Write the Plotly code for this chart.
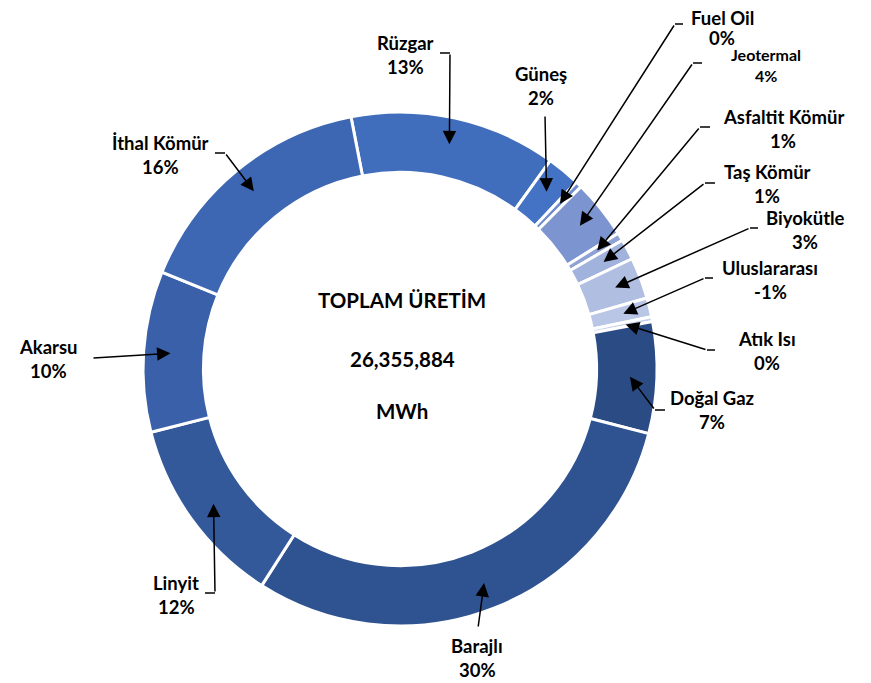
import math
import plotly.graph_objects as go

# ---------------- data ----------------
labels = ["Rüzgar", "Güneş", "Fuel Oil", "Jeotermal", "Asfaltit Kömür", "Taş Kömür",
          "Biyokütle", "Uluslararası", "Atık Isı", "Doğal Gaz", "Barajlı", "Linyit",
          "Akarsu", "İthal Kömür"]
shares = [13.0, 2.1, 0.4, 3.7, 0.5, 1.3, 2.6, 1.2, 0.3, 7.0, 30.0, 12.0, 10.1, 15.8]
pct_text = ["13%", "2%", "0%", "4%", "1%", "1%", "3%", "-1%", "0%", "7%", "30%", "12%", "10%", "16%"]
total_text = "26,355,884"

# ---------------- style ----------------
colors = ["#416EBC", "#4472C4", "#6F8DCF", "#7C94D0", "#8EA2D6", "#A1B2DC",
          "#B0BEE2", "#BAC6E6", "#C4CEE9", "#2B4B85", "#2F5290", "#34599B",
          "#3A60A9", "#3D67B3"]
W, H = 871, 683
OFF = 8  # page body margin
CX, CY, R = 400, 369, 257
ROT = -11
FONT = "Lato"

# label text centre (x, y of block middle), line gap, elbow start, elbow end (arrow tail)
label_layout = {
    "Rüzgar":         dict(tx=405, ty=55,  e0=(440, 53),  e1=(450, 53)),
    "Güneş":          dict(tx=541, ty=86,  e0=None,       e1=(545, 115)),
    "Fuel Oil":       dict(tx=722, ty=28,  gap=20, e0=(683, 24),  e1=(675, 24)),
    "Jeotermal":      dict(tx=766, ty=65,  gap=21, e0=(702, 63),  e1=(693, 63), small=True),
    "Asfaltit Kömür": dict(tx=783, ty=129, e0=(710, 127), e1=(700, 127)),
    "Taş Kömür":      dict(tx=767, ty=184, e0=(715, 183), e1=(705, 183)),
    "Biyokütle":      dict(tx=805, ty=230, e0=(758, 228), e1=(750, 228)),
    "Uluslararası":   dict(tx=770, ty=280, e0=(713, 278), e1=(705, 278)),
    "Atık Isı":       dict(tx=767, ty=351, e0=(715, 350), e1=(707, 350)),
    "Doğal Gaz":      dict(tx=712, ty=410, e0=(665, 410), e1=(655, 410)),
    "Barajlı":        dict(tx=477, ty=658, e0=None,       e1=(478, 628)),
    "Linyit":         dict(tx=176, ty=595, e0=(205, 593), e1=(215, 593)),
    "Akarsu":         dict(tx=48,  ty=359, e0=None,       e1=(92, 358)),
    "İthal Kömür":    dict(tx=160, ty=155, e0=(215, 153), e1=(225, 153)),
}

fig = go.Figure()
fig.add_trace(go.Pie(
    labels=labels, values=shares, sort=False, direction="clockwise",
    rotation=ROT, hole=0.765, textinfo="none", hoverinfo="skip",
    marker=dict(colors=colors, line=dict(color="white", width=3)),
    domain=dict(x=[(CX - R - OFF) / W, (CX + R - OFF) / W],
                y=[1 - (CY + R - OFF) / H, 1 - (CY - R - OFF) / H]),
    showlegend=False,
))

annotations = []
shapes = []
tot = sum(shares)
cum = 0.0
for lab, v, pt in zip(labels, shares, pct_text):
    mid = math.radians(ROT + 360.0 * (cum + v / 2) / tot)
    cum += v
    tipx = CX + 0.895 * R * math.sin(mid)
    tipy = CY - 0.895 * R * math.cos(mid)
    L = label_layout[lab]
    size = 16 if L.get("small") else 18.5
    gap = L.get("gap", 24)
    for txt, yy in ((lab, L["ty"] - gap / 2), (pt, L["ty"] + gap / 2)):
        annotations.append(dict(
            x=L["tx"], y=yy, xref="x", yref="y", showarrow=False,
            text=f"<b>{txt}</b>", align="center",
            font=dict(family=FONT, size=size, color="#000000"),
            yanchor="middle", xanchor="center",
        ))
    if L["e0"] is not None:
        shapes.append(dict(type="line", xref="x", yref="y",
                           x0=L["e0"][0], y0=L["e0"][1], x1=L["e1"][0], y1=L["e1"][1],
                           line=dict(color="black", width=1.5)))
    annotations.append(dict(
        x=tipx, y=tipy, xref="x", yref="y", ax=L["e1"][0], ay=L["e1"][1],
        axref="x", ayref="y", text="", showarrow=True, arrowhead=2,
        arrowsize=1.8, arrowwidth=1.5, arrowcolor="black", standoff=0,
    ))

center_lines = [("TOPLAM ÜRETİM", 300), (total_text, 359), ("MWh", 411)]
for txt, yy in center_lines:
    annotations.append(dict(
        x=CX + 2, y=yy, xref="x", yref="y", showarrow=False,
        text=f"<b>{txt}</b>", font=dict(family=FONT, size=20.5, color="#000000"),
    ))

fig.update_layout(
    width=W, height=H, margin=dict(l=0, r=0, t=0, b=0),
    paper_bgcolor="white", plot_bgcolor="rgba(0,0,0,0)",
    xaxis=dict(range=[OFF, W + OFF], visible=False, fixedrange=True, domain=[0, 1]),
    yaxis=dict(range=[H + OFF, OFF], visible=False, fixedrange=True, domain=[0, 1]),
    annotations=annotations, shapes=shapes,
)

fig.write_html("out.html")
